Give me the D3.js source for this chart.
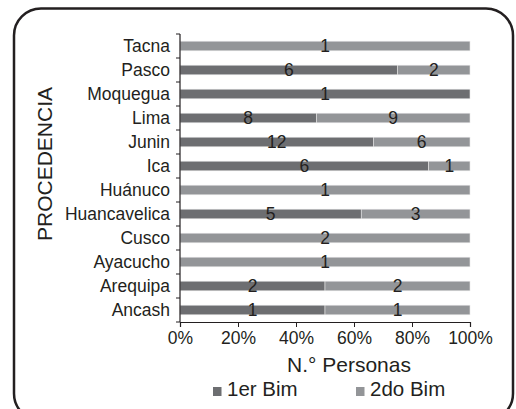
<!DOCTYPE html>
<html>
<head>
<meta charset="utf-8">
<title>Procedencia por bimestre</title>
<script src="https://d3js.org/d3.v7.min.js"></script>
<style>
  body { margin: 0; background: #fff; }
  text { font-family: "Liberation Sans", Arial, sans-serif; fill: #231f20; }
</style>
</head>
<body>

<div id="chart"></div>

<script>
  // data (top to bottom)
  const categories = ["Tacna", "Pasco", "Moquegua", "Lima", "Junin", "Ica", "Huánuco",
                      "Huancavelica", "Cusco", "Ayacucho", "Arequipa", "Ancash"];
  const bim1 = [0, 6, 1, 8, 12, 6, 0, 5, 0, 0, 2, 1];
  const bim2 = [1, 2, 0, 9, 6, 1, 1, 3, 2, 1, 2, 1];
  const seriesNames = ["1er Bim", "2do Bim"];
  const tickValues = [0, 0.2, 0.4, 0.6, 0.8, 1];

  const colors = ["#6d6e71", "#939598"];

  const svg = d3.select("#chart").append("svg")
    .attr("width", 516)
    .attr("height", 409);

  // rounded frame
  svg.append("rect")
    .attr("x", 14).attr("y", 8.5)
    .attr("width", 499).attr("height", 412)
    .attr("rx", 27).attr("ry", 27)
    .attr("fill", "none")
    .attr("stroke", "#231f20")
    .attr("stroke-width", 2.5);

  const x = d3.scaleLinear().domain([0, 1]).range([180, 470]);
  const y = d3.scaleBand().domain(categories).range([34, 322])
    .paddingInner(0.6).paddingOuter(0.3);

  // stack as percentages
  const rows = categories.map((c, i) => {
    const tot = bim1[i] + bim2[i];
    return { cat: c, v: [bim1[i], bim2[i]], p: [bim1[i] / tot, bim2[i] / tot] };
  });

  const segs = [];
  rows.forEach(r => {
    let acc = 0;
    r.v.forEach((v, k) => {
      segs.push({ cat: r.cat, k: k, v: v, x0: acc, x1: acc + r.p[k] });
      acc += r.p[k];
    });
  });

  // bars
  svg.selectAll(".bar")
    .data(segs.filter(d => d.v > 0))
    .enter().append("rect")
    .attr("class", "bar")
    .attr("x", d => x(d.x0))
    .attr("y", d => y(d.cat))
    .attr("width", d => x(d.x1) - x(d.x0))
    .attr("height", y.bandwidth())
    .attr("fill", d => colors[d.k])
    .attr("stroke", "#e6e6e7")
    .attr("stroke-width", 0.6);

  // value labels
  svg.selectAll(".val")
    .data(segs.filter(d => d.v > 0))
    .enter().append("text")
    .attr("class", "val")
    .attr("x", d => x((d.x0 + d.x1) / 2))
    .attr("y", d => y(d.cat) + y.bandwidth() / 2 + 6)
    .attr("text-anchor", "middle")
    .style("font-size", "17.5px")
    .text(d => d.v);

  // y axis (ticks between categories)
  const yAxis = svg.append("g");
  yAxis.append("line")
    .attr("x1", x(0)).attr("x2", x(0))
    .attr("y1", y.range()[0]).attr("y2", y.range()[1])
    .attr("stroke", "#231f20").attr("stroke-width", 1.2);
  const bounds = categories.map(c => y(c) - y.step() * y.paddingInner() / 2)
    .concat([y.range()[1]]);
  yAxis.selectAll(".yt")
    .data(bounds)
    .enter().append("line")
    .attr("x1", x(0) - 4).attr("x2", x(0))
    .attr("y1", d => d).attr("y2", d => d)
    .attr("stroke", "#231f20").attr("stroke-width", 1);
  yAxis.selectAll(".ylab")
    .data(categories)
    .enter().append("text")
    .attr("x", x(0) - 10)
    .attr("y", d => y(d) + y.bandwidth() / 2 + 6)
    .attr("text-anchor", "end")
    .style("font-size", "17.5px")
    .text(d => d);

  // x axis
  const xAxis = svg.append("g")
    .attr("transform", `translate(0,${y.range()[1]})`)
    .call(d3.axisBottom(x).tickValues(tickValues).tickSize(5)
      .tickPadding(5).tickFormat(d3.format(".0%")));
  xAxis.select(".domain").attr("stroke", "#231f20").attr("stroke-width", 1.2);
  xAxis.selectAll(".tick line").attr("stroke", "#231f20");
  xAxis.selectAll(".tick text")
    .style("font-size", "17.5px")
    .style("font-family", "'Liberation Sans', Arial, sans-serif")
    .attr("fill", "#231f20");

  // axis titles
  svg.append("text")
    .attr("x", 349).attr("y", 372)
    .attr("text-anchor", "middle")
    .style("font-size", "21px")
    .text("N.° Personas");

  svg.append("text")
    .attr("transform", "translate(52,164) rotate(-90)")
    .attr("text-anchor", "middle")
    .style("font-size", "21px")
    .text("PROCEDENCIA");

  // legend
  const legX = [213, 356];
  const legend = svg.selectAll(".leg")
    .data(seriesNames)
    .enter().append("g")
    .attr("transform", (d, i) => `translate(${legX[i]},387)`);
  legend.append("rect")
    .attr("width", 8.5).attr("height", 9)
    .attr("fill", (d, i) => colors[i]);
  legend.append("text")
    .attr("x", 14).attr("y", 9)
    .style("font-size", "20.5px")
    .text(d => d);
</script>

</body>
</html>
